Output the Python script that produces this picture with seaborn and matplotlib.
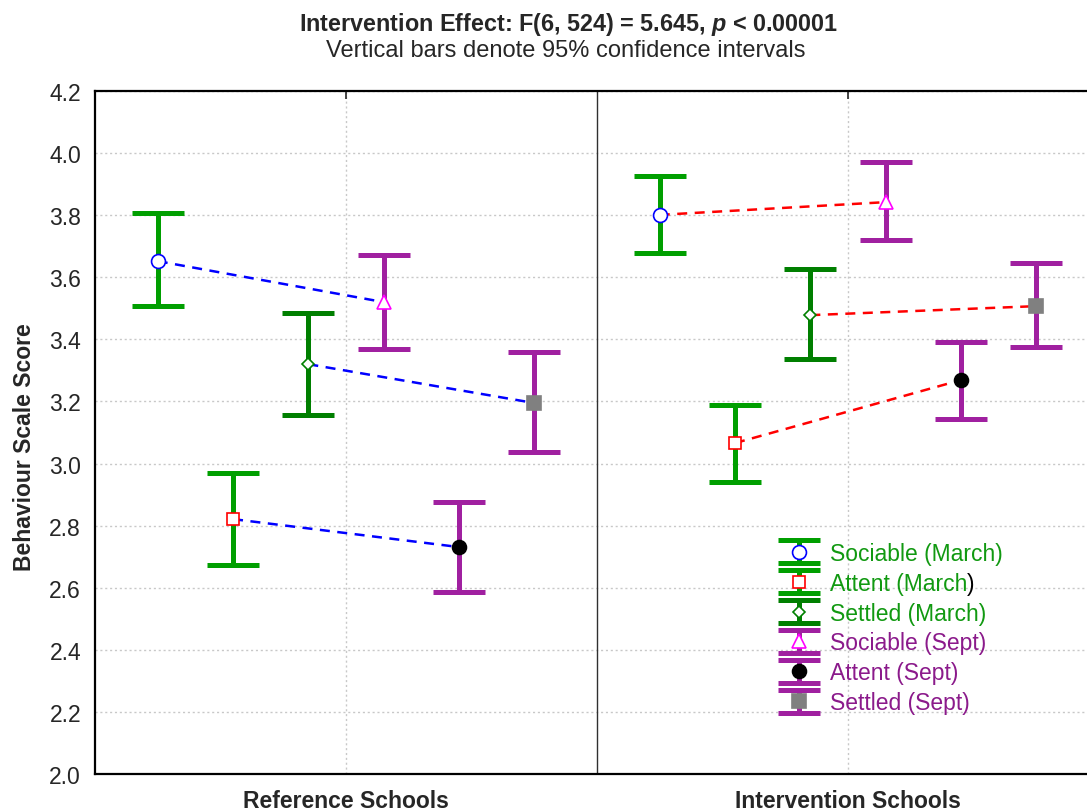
import pandas as pd
import matplotlib.pyplot as plt
import seaborn as sns
from matplotlib.lines import Line2D

# group / measure labels
groups = ["Reference Schools", "Intervention Schools"]
measures = ["Sociable", "Attent", "Settled"]

# means and 95% CI bounds, order: Sociable, Attent, Settled
ref_march = [3.652, 2.821, 3.320]
ref_march_lo = [3.507, 2.673, 3.156]
ref_march_hi = [3.807, 2.970, 3.485]
ref_sept = [3.520, 2.731, 3.195]
ref_sept_lo = [3.369, 2.586, 3.037]
ref_sept_hi = [3.672, 2.876, 3.359]

int_march = [3.801, 3.066, 3.478]
int_march_lo = [3.678, 2.941, 3.337]
int_march_hi = [3.926, 3.189, 3.627]
int_sept = [3.842, 3.269, 3.507]
int_sept_lo = [3.720, 3.143, 3.375]
int_sept_hi = [3.971, 3.392, 3.646]

# build a long table
rows = []
for g, (m, mlo, mhi, s, slo, shi) in enumerate([
        (ref_march, ref_march_lo, ref_march_hi, ref_sept, ref_sept_lo, ref_sept_hi),
        (int_march, int_march_lo, int_march_hi, int_sept, int_sept_lo, int_sept_hi)]):
    for i, meas in enumerate(measures):
        rows.append(dict(group=groups[g], gidx=g, measure=meas, time="March", slot=i,
                         mean=m[i], lo=mlo[i], hi=mhi[i]))
        rows.append(dict(group=groups[g], gidx=g, measure=meas, time="Sept", slot=i + 3,
                         mean=s[i], lo=slo[i], hi=shi[i]))
df = pd.DataFrame(rows)
df["x"] = df["gidx"] + 0.5 + (df["slot"] - 2.5) * 0.15

bar_colors = {("Sociable", "March"): "#009f00", ("Attent", "March"): "#009f00",
              ("Settled", "March"): "#007f00", ("Sociable", "Sept"): "#a020a0",
              ("Attent", "Sept"): "#a020a0", ("Settled", "Sept"): "#a020a0"}
markers = {("Sociable", "March"): dict(marker="o", ms=10, mfc="white", mec="#0000ff"),
           ("Attent", "March"): dict(marker="s", ms=9, mfc="white", mec="#ff0000"),
           ("Settled", "March"): dict(marker="D", ms=6, mfc="white", mec="#008000"),
           ("Sociable", "Sept"): dict(marker="^", ms=10, mfc="white", mec="#ff00ff"),
           ("Attent", "Sept"): dict(marker="o", ms=10, mfc="black", mec="black"),
           ("Settled", "Sept"): dict(marker="s", ms=10, mfc="#808080", mec="#808080")}

sns.set_style("white")
plt.rcParams["font.family"] = ["Liberation Sans", "DejaVu Sans"]
plt.rcParams["mathtext.fontset"] = "custom"
plt.rcParams["mathtext.it"] = "Liberation Sans:italic:bold"

fig = plt.figure(figsize=(10.87, 8.12), dpi=100)
ax = fig.add_axes([95 / 1087, 37 / 812, 1004 / 1087, 683 / 812])

# dashed connecting lines March -> Sept
for g, col in zip(groups, ["#0000ff", "#ff0000"]):
    sub = df[df["group"] == g]
    sns.lineplot(data=sub, x="x", y="mean", units="measure", estimator=None,
                 color=col, lw=1.8, linestyle=(0, (4, 3)), ax=ax,
                 sort=True, zorder=4)

handles = []
labels = []
for key in [(m, t) for t in ["March", "Sept"] for m in measures]:
    sub = df[(df["measure"] == key[0]) & (df["time"] == key[1])]
    ax.errorbar(sub["x"], sub["mean"],
                yerr=[sub["mean"] - sub["lo"], sub["hi"] - sub["mean"]],
                fmt="none", ecolor=bar_colors[key], elinewidth=3.6,
                capsize=19, capthick=3.6, zorder=3)
    mk = markers[key]
    ax.plot(sub["x"], sub["mean"], ls="none", marker=mk["marker"], ms=mk["ms"],
            mfc=mk["mfc"], mec=mk["mec"], mew=1.2, zorder=5)
    # legend proxy (outside the x range, so not drawn) with narrower caps
    proxy = ax.errorbar([-10], [3.0], yerr=[[0.1], [0.1]], fmt="none",
                        ecolor=bar_colors[key], elinewidth=3.6,
                        capsize=15, capthick=3.6)
    pt = Line2D([], [], ls="none", marker=mk["marker"], ms=mk["ms"],
                mfc=mk["mfc"], mec=mk["mec"], mew=1.2)
    handles.append((proxy, pt))
    labels.append(f"{key[0]} ({key[1]})")

ax.set_xlim(0, 2)
ax.set_ylim(2.0, 4.2)
ax.set_yticks([2.0 + 0.2 * i for i in range(12)])
ax.set_yticklabels([f"{2.0 + 0.2 * i:.1f}" for i in range(12)], fontsize=16.5)
ax.set_xticks([0.5, 1.5])
ax.set_xticklabels(groups, fontsize=16.5, fontweight="bold")
ax.tick_params(axis="x", direction="in", length=6, top=True, pad=11, width=1.2)
ax.tick_params(axis="y", direction="out", length=6, width=1.2, pad=4)
ax.grid(True, ls=(0, (1.5, 2)), color="#c8c8c8", lw=1)
ax.axvline(1, color="#303030", lw=1, zorder=2)
for s in ["left", "bottom", "top"]:
    ax.spines[s].set_linewidth(1.6)
    ax.spines[s].set_color("black")
ax.spines["right"].set_visible(False)
ax.set_xlabel("")
ax.set_ylabel("Behaviour Scale Score", fontsize=16.5, fontweight="bold")
ax.yaxis.set_label_coords(-0.059, 0.48)

fig.text(0.5235, 1 - 31 / 812, r"Intervention Effect: F(6, 524) = 5.645, $p$ < 0.00001",
         ha="center", va="baseline", fontsize=16.8, fontweight="bold")
fig.text(0.5205, 1 - 57 / 812, "Vertical bars denote 95% confidence intervals",
         ha="center", va="baseline", fontsize=17)

# legend: error bar + marker per entry, coloured text
labels[1] = "Attent (March"
leg = ax.legend(handles, labels, loc="upper left",
                bbox_to_anchor=(0.681, 0.340), frameon=False, fontsize=16.5,
                handlelength=1.75, handletextpad=0.48, labelspacing=0.30,
                borderaxespad=0, borderpad=0)
for txt, lab in zip(leg.get_texts(), labels):
    txt.set_color("#119911" if "March" in lab else "#8b1a8b")
fig.canvas.draw()
bb = leg.get_texts()[1].get_window_extent()
fig.text(bb.x1, bb.y0, ")", transform=None, ha="left", va="bottom",
         fontsize=16.5, color="black")

fig.savefig("out.png", dpi=100)
